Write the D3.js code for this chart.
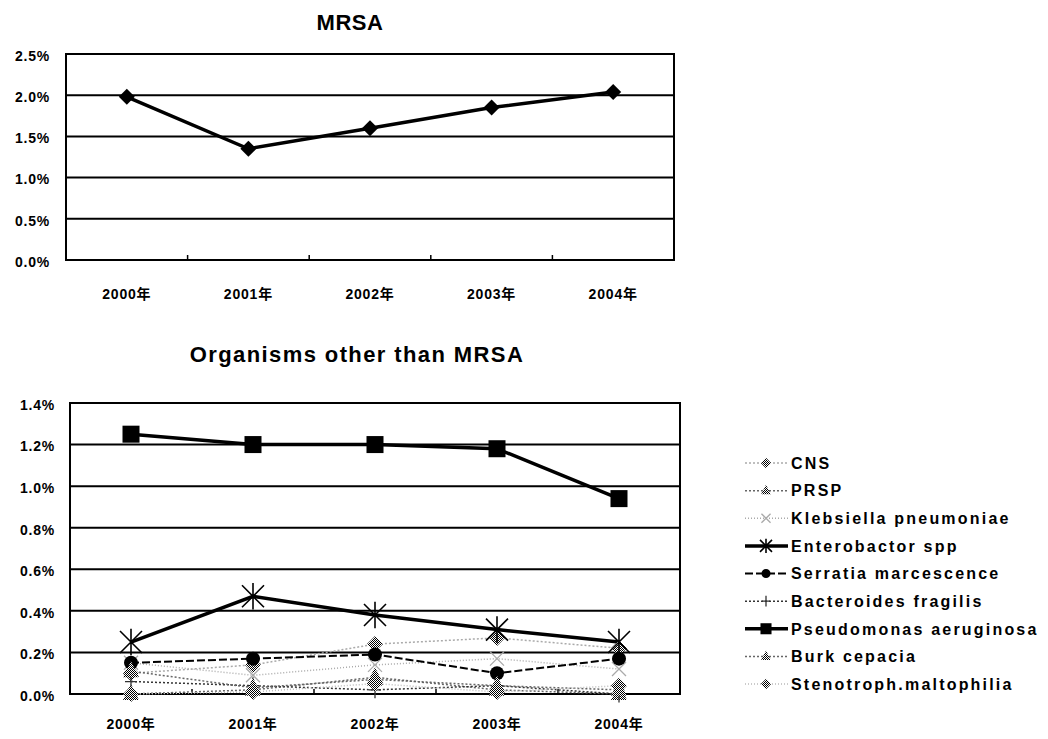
<!DOCTYPE html>
<html>
<head>
<meta charset="utf-8" />
<title>MRSA and other organisms</title>
<script src="https://d3js.org/d3.v7.min.js"></script>
<style>
body { margin: 0; background: #fff; }
svg text { font-family: "Liberation Sans", Arial, "Noto Sans CJK JP", sans-serif; fill: #000; }
.axis text { font-size: 14px; font-weight: bold; letter-spacing: 0.8px; }
.axis path, .axis line { display: none; }
.legend text { font-size: 16px; font-weight: bold; letter-spacing: 2.2px; }
.title { font-weight: bold; }
</style>
</head>
<body>
<div id="viz"></div>
<script>
// categories and values (percent)
var years = ["2000年", "2001年", "2002年", "2003年", "2004年"];
var mrsaTicks = [0, 0.5, 1.0, 1.5, 2.0, 2.5];
var otherTicks = [0, 0.2, 0.4, 0.6, 0.8, 1.0, 1.2, 1.4];

var mrsa = [1.98, 1.35, 1.60, 1.85, 2.04];

var seriesNames = ["CNS", "PRSP", "Klebsiella pneumoniae", "Enterobactor spp",
  "Serratia marcescence", "Bacteroides fragilis", "Pseudomonas aeruginosa",
  "Burk cepacia", "Stenotroph.maltophilia"];
var cns = [0.10, 0.14, 0.24, 0.27, 0.22];
var prsp = [0.00, 0.02, 0.08, 0.02, 0.00];
var klebsiella = [0.15, 0.09, 0.14, 0.17, 0.12];
var enterobactor = [0.25, 0.47, 0.38, 0.31, 0.25];
var serratia = [0.15, 0.17, 0.19, 0.10, 0.17];
var bacteroides = [0.06, 0.04, 0.02, 0.04, 0.00];
var pseudomonas = [1.25, 1.20, 1.20, 1.18, 0.94];
var burk = [0.11, 0.03, 0.07, 0.04, 0.02];
var stenotroph = [0.00, 0.01, 0.05, 0.01, 0.04];

var W = 1048, H = 739;
var svg = d3.select("#viz").append("svg")
    .attr("width", W)
    .attr("height", H);

// checker pattern to imitate the halftone markers
var defs = svg.append("defs");
var pat = defs.append("pattern")
    .attr("id", "checker")
    .attr("width", 2).attr("height", 2)
    .attr("patternUnits", "userSpaceOnUse");
pat.append("rect").attr("width", 2).attr("height", 2).attr("fill", "#fff");
pat.append("rect").attr("width", 1).attr("height", 1).attr("fill", "#000");
pat.append("rect").attr("x", 1).attr("y", 1).attr("width", 1).attr("height", 1).attr("fill", "#000");

var styles = [
  { data: cns,          stroke: "#aaa", width: 1.5, dash: "2,2", marker: "diamond", size: 8, fill: "url(#checker)" },
  { data: prsp,         stroke: "#666", width: 1.5, dash: "2,2", marker: "triangle", size: 10, fill: "url(#checker)" },
  { data: klebsiella,   stroke: "#aaa", width: 1.5, dash: "1,2", marker: "x", size: 7, fill: "none" },
  { data: enterobactor, stroke: "#000", width: 3.5, dash: null,  marker: "star", size: 11, fill: "none" },
  { data: serratia,     stroke: "#000", width: 2,   dash: "8,3", marker: "circle", size: 7, fill: "#000" },
  { data: bacteroides,  stroke: "#333", width: 1.5, dash: "2,2", marker: "plus", size: 6, fill: "none" },
  { data: pseudomonas,  stroke: "#000", width: 3.5, dash: null,  marker: "square", size: 8.5, fill: "#000" },
  { data: burk,         stroke: "#666", width: 1.5, dash: "2,2", marker: "triangle", size: 10, fill: "url(#checker)" },
  { data: stenotroph,   stroke: "#bbb", width: 1.5, dash: "1,2", marker: "diamond", size: 8, fill: "url(#checker)" }
];

function drawMarker(g, type, cx, cy, s, fill, stroke) {
  if (type === "diamond") {
    g.append("path").attr("d", "M" + cx + "," + (cy - s) + "L" + (cx + s) + "," + cy + "L" + cx + "," + (cy + s) + "L" + (cx - s) + "," + cy + "Z")
      .attr("fill", fill).attr("stroke", "none");
  } else if (type === "square") {
    g.append("rect").attr("x", cx - s).attr("y", cy - s).attr("width", 2 * s).attr("height", 2 * s).attr("fill", fill);
  } else if (type === "circle") {
    g.append("circle").attr("cx", cx).attr("cy", cy).attr("r", s).attr("fill", fill);
  } else if (type === "triangle") {
    g.append("path").attr("d", "M" + cx + "," + (cy - s) + "L" + (cx + s * 0.8) + "," + (cy + s * 0.6) + "L" + (cx - s * 0.8) + "," + (cy + s * 0.6) + "Z")
      .attr("fill", fill).attr("stroke", "none");
  } else if (type === "star") {
    g.append("path").attr("d",
        "M" + (cx - s) + "," + (cy - s) + "L" + (cx + s) + "," + (cy + s) +
        "M" + (cx + s) + "," + (cy - s) + "L" + (cx - s) + "," + (cy + s) +
        "M" + cx + "," + (cy - s * 1.2) + "L" + cx + "," + (cy + s * 1.2))
      .attr("stroke", stroke).attr("stroke-width", 1.6).attr("fill", "none");
  } else if (type === "x") {
    g.append("path").attr("d",
        "M" + (cx - s) + "," + (cy - s) + "L" + (cx + s) + "," + (cy + s) +
        "M" + (cx + s) + "," + (cy - s) + "L" + (cx - s) + "," + (cy + s))
      .attr("stroke", stroke).attr("stroke-width", 1.3).attr("fill", "none");
  } else if (type === "plus") {
    g.append("path").attr("d",
        "M" + (cx - s) + "," + cy + "L" + (cx + s) + "," + cy +
        "M" + cx + "," + (cy - s * 1.4) + "L" + cx + "," + (cy + s * 1.4))
      .attr("stroke", stroke).attr("stroke-width", 1.3).attr("fill", "none");
  }
}

function panel(box, ticks, title, titleX, titleY, titleSize, titleSpacing, labelRight, xLabelY) {
  var x = d3.scaleBand().domain(years).range([box.left, box.right]).padding(0);
  var y = d3.scaleLinear().domain([0, ticks[ticks.length - 1]]).range([box.bottom, box.top]);
  var g = svg.append("g");

  // gridlines
  g.selectAll(".grid").data(ticks.slice(1, -1)).enter().append("line")
      .attr("x1", box.left).attr("x2", box.right)
      .attr("y1", function(d) { return y(d); }).attr("y2", function(d) { return y(d); })
      .attr("stroke", "#000").attr("stroke-width", 2);

  // inward category ticks on the bottom edge
  g.selectAll(".xt").data(years.slice(1)).enter().append("line")
      .attr("x1", function(d) { return x(d); }).attr("x2", function(d) { return x(d); })
      .attr("y1", box.bottom).attr("y2", box.bottom - 5)
      .attr("stroke", "#000").attr("stroke-width", 1.5);

  // frame
  g.append("rect")
      .attr("x", box.left).attr("y", box.top)
      .attr("width", box.right - box.left).attr("height", box.bottom - box.top)
      .attr("fill", "none").attr("stroke", "#000").attr("stroke-width", 2);

  svg.append("g").attr("class", "axis")
      .attr("transform", "translate(" + labelRight + ",0)")
      .call(d3.axisLeft(y).tickValues(ticks).tickSize(0).tickPadding(0)
        .tickFormat(function(d) { return d.toFixed(1) + "%"; }))
    .selectAll("text").attr("dy", "0.45em");

  svg.append("g").attr("class", "axis")
      .attr("transform", "translate(0," + xLabelY + ")")
      .call(d3.axisBottom(x).tickSize(0).tickPadding(0))
    .selectAll("text").attr("dy", "0.35em");

  svg.append("text")
      .attr("class", "title")
      .attr("x", titleX).attr("y", titleY)
      .attr("text-anchor", "middle")
      .style("font-size", titleSize + "px")
      .style("letter-spacing", titleSpacing + "px")
      .text(title);

  return { x: x, y: y, g: g };
}

// top chart: MRSA
var topChart = panel({ left: 66, right: 674, top: 54, bottom: 260 }, mrsaTicks, "MRSA", 350, 30, 22, 0.5, 50, 294);
var line1 = d3.line()
    .x(function(d, i) { return topChart.x(years[i]) + topChart.x.bandwidth() / 2; })
    .y(function(d) { return topChart.y(d); });
topChart.g.append("path").datum(mrsa)
    .attr("d", line1).attr("fill", "none")
    .attr("stroke", "#000").attr("stroke-width", 3.5);
mrsa.forEach(function(v, i) {
  drawMarker(topChart.g, "diamond", topChart.x(years[i]) + topChart.x.bandwidth() / 2, topChart.y(v), 8, "#000", "#000");
});

// bottom chart: other organisms
var botChart = panel({ left: 70, right: 680, top: 403, bottom: 694 }, otherTicks, "Organisms other than MRSA", 357, 362, 22, 1.4, 55, 724);
var line2 = d3.line()
    .x(function(d, i) { return botChart.x(years[i]) + botChart.x.bandwidth() / 2; })
    .y(function(d) { return botChart.y(d); });

styles.forEach(function(s) {
  botChart.g.append("path").datum(s.data)
      .attr("d", line2).attr("fill", "none")
      .attr("stroke", s.stroke).attr("stroke-width", s.width)
      .attr("stroke-dasharray", s.dash);
});
styles.forEach(function(s) {
  s.data.forEach(function(v, i) {
    drawMarker(botChart.g, s.marker, botChart.x(years[i]) + botChart.x.bandwidth() / 2, botChart.y(v), s.size, s.fill, s.stroke);
  });
});

// legend
var legend = svg.append("g").attr("class", "legend");
var ly = d3.scalePoint().domain(seriesNames).range([463, 684]);
seriesNames.forEach(function(name, i) {
  var s = styles[i];
  var yy = ly(name);
  legend.append("line")
      .attr("x1", 745).attr("x2", 788).attr("y1", yy).attr("y2", yy)
      .attr("stroke", s.stroke).attr("stroke-width", s.width)
      .attr("stroke-dasharray", s.dash);
  drawMarker(legend, s.marker, 766, yy, Math.min(s.size * 0.65, 6), s.fill, s.stroke);
  legend.append("text")
      .attr("x", 791).attr("y", yy).attr("dy", "0.36em")
      .text(name);
});
</script>
</body>
</html>
